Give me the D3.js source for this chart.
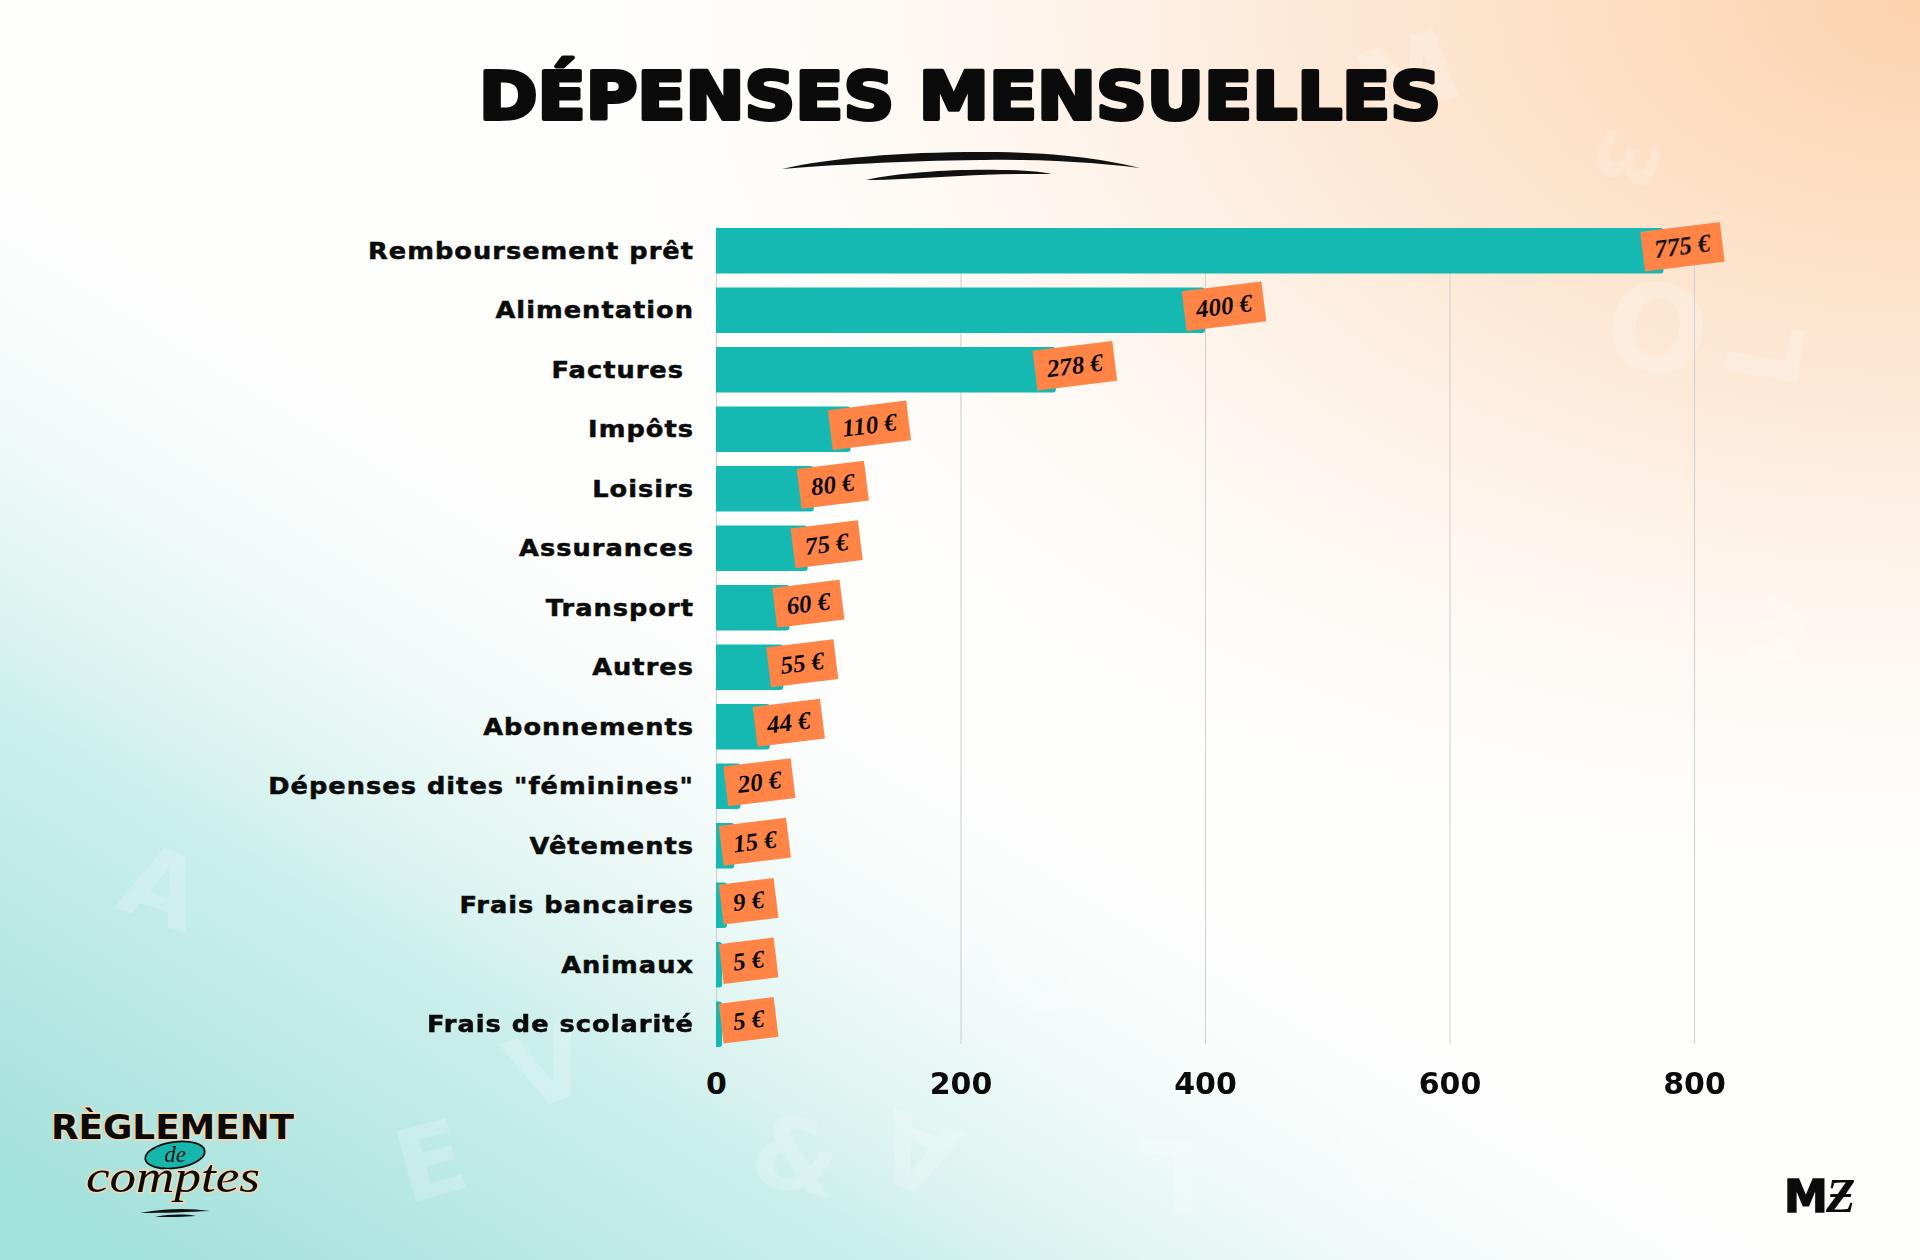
<!DOCTYPE html>
<html><head><meta charset="utf-8">
<script src="https://cdn.jsdelivr.net/npm/d3@7"></script>
<style>body{margin:0;background:#fff;} svg{display:block}</style>
</head><body>
<svg id="chart" width="1920" height="1260"></svg>
<script>
// ---- data ----
const categories = ["Remboursement prêt","Alimentation","Factures\u00a0","Impôts","Loisirs","Assurances","Transport","Autres","Abonnements","Dépenses dites \"féminines\"","Vêtements","Frais bancaires","Animaux","Frais de scolarité"];
const values = [775,400,278,110,80,75,60,55,44,20,15,9,5,5];
const xTicks = [0,200,400,600,800];
const titleText = "DÉPENSES MENSUELLES";
const currency = "€";

const W = 1920, H = 1260;
const svg = d3.select("#chart");
const defs = svg.append("defs");

// ---- background ----
const lg = defs.append("linearGradient").attr("id","tealGrad").attr("gradientUnits","userSpaceOnUse")
  .attr("x1",150).attr("y1",1260).attr("x2",600).attr("y2",520);
lg.append("stop").attr("offset","0").attr("stop-color","#a3e1dc").attr("stop-opacity",1);
lg.append("stop").attr("offset","0.45").attr("stop-color","#c6ede9").attr("stop-opacity",0.9);
lg.append("stop").attr("offset","1").attr("stop-color","#f2fbfa").attr("stop-opacity",0.0);
const rg = defs.append("radialGradient").attr("id","peachGrad")
  .attr("cx","1").attr("cy","0").attr("r","0.75");
rg.append("stop").attr("offset","0").attr("stop-color","#fcd2ac").attr("stop-opacity",1);
rg.append("stop").attr("offset","0.45").attr("stop-color","#fde5d0").attr("stop-opacity",0.8);
rg.append("stop").attr("offset","1").attr("stop-color","#ffffff").attr("stop-opacity",0);
svg.append("rect").attr("width",W).attr("height",H).attr("fill","#fefefd");
svg.append("rect").attr("width",W).attr("height",H).attr("fill","url(#peachGrad)");
svg.append("rect").attr("width",W).attr("height",H).attr("fill","url(#tealGrad)");

// faint decorative letters
const deco = [
  ["M",1420,110,100,-20],["3",1600,150,80,110],["O",1650,370,120,10],["L",1800,360,100,-80],
  ["A",150,920,100,20],["O",1047,1010,140,0],["d",1290,1060,100,-30],["V",560,1100,100,-20],
  ["&",790,1190,100,10],["E",440,1195,100,-15],["A",930,1120,100,-160],["L",1170,1140,100,180],["E",1390,1190,100,-25],
  ["&",1560,1190,100,15],["T",1070,330,100,25],["w",1800,640,80,-70],["s",1720,860,90,-20]
];
const dg = svg.append("g").attr("fill","#ffffff").attr("opacity",0.2)
  .attr("font-family","DejaVu Sans").attr("font-weight","bold");
dg.selectAll("text").data(deco).join("text")
  .attr("transform",d=>`translate(${d[1]},${d[2]}) rotate(${d[4]})`)
  .attr("font-size",d=>d[3]).attr("text-anchor","middle").text(d=>d[0]);

// ---- title ----
svg.append("text").attr("x",960).attr("y",119).attr("text-anchor","middle")
  .attr("font-family","DejaVu Sans").attr("font-weight","bold").attr("font-size",66)
  .attr("textLength",962).attr("lengthAdjust","spacingAndGlyphs")
  .attr("fill","#0b0b0b").attr("stroke","#0b0b0b").attr("stroke-width",4).attr("stroke-linejoin","round")
  .text(titleText);
// brush strokes
svg.append("path").attr("fill","#111")
  .attr("d","M782,169 C830,158 900,152 980,152 C1050,152 1100,158 1140,168 C1090,162 1040,159 980,160 C900,161 830,165 782,169 Z");
svg.append("path").attr("fill","#111")
  .attr("d","M866,180 C900,172 960,169 1000,170 C1025,170 1042,172 1052,174 C1020,174 990,174 960,176 C920,178 890,180 866,180 Z");

// ---- scales ----
const x = d3.scaleLinear().domain([0,800]).range([716,1694]);
const y = d3.scaleBand().domain(categories).range([221,1054]).paddingInner(0.235).paddingOuter(0.1175);

// grid lines via axis
const grid = svg.append("g").attr("transform","translate(0,1044)")
  .call(d3.axisBottom(x).tickValues(xTicks).tickSize(-(1044-228)).tickFormat(""));
grid.select(".domain").remove();
grid.selectAll("line").attr("stroke","#d4d4d4").attr("stroke-width",1.2);

// tick labels
const ax = svg.append("g").attr("transform","translate(0,1094)")
  .call(d3.axisBottom(x).tickValues(xTicks).tickSize(0).tickPadding(0).tickFormat(d3.format("d")));
ax.select(".domain").remove();
ax.selectAll("text").attr("font-family","DejaVu Sans").attr("font-weight","bold")
  .attr("font-size",30).attr("fill","#0b0b0b").attr("dy",0).attr("y",0);

// ---- bars ----
const r = 3;
svg.append("g").selectAll("path").data(values).join("path")
  .attr("fill","#15b9b1")
  .attr("d",(v,i)=>{
    const x0 = x(0), x1 = x(v), y0 = y(categories[i]), h = y.bandwidth();
    const rr = Math.min(r,(x1-x0)/2);
    return `M${x0},${y0} H${x1-rr} Q${x1},${y0} ${x1},${y0+rr} V${y0+h-rr} Q${x1},${y0+h} ${x1-rr},${y0+h} H${x0} Z`;
  });

// category labels (wide, extended look)
svg.append("g").selectAll("text").data(categories).join("text")
  .attr("transform",c=>`translate(694,${y(c)+y.bandwidth()/2}) scale(1.14,1)`)
  .attr("dy","0.36em")
  .attr("text-anchor","end").attr("font-family","DejaVu Sans").attr("font-weight","bold")
  .attr("font-size",22.5).attr("letter-spacing","0.9px").attr("fill","#0b0b0b")
  .attr("stroke","#0b0b0b").attr("stroke-width",0.5)
  .style("white-space","pre").text(c=>c);

// ---- value tags ----
const tags = svg.append("g");
values.forEach((v,i)=>{
  const cy = y(categories[i]) + y.bandwidth()/2 - 4;
  const label = v + " " + currency;
  const g = tags.append("g");
  const t = g.append("text").attr("font-family","Liberation Serif").attr("font-style","italic")
    .attr("font-weight","bold").attr("font-size",25).attr("fill","#0b0b0b")
    .attr("text-anchor","middle").attr("dy","0.33em").text(label);
  const tw = t.node().getComputedTextLength();
  const w = tw + 24, h = 40;
  const cx = Math.max(x(v) + 19, 721 + w/2);
  g.insert("rect","text").attr("x",-w/2).attr("y",-h/2).attr("width",w).attr("height",h).attr("fill","#ff8446");
  g.attr("transform",`translate(${cx},${cy}) rotate(-7)`);
});

// ---- logos ----
const lgG = svg.append("g");
lgG.append("text").attr("x",51).attr("y",1139).attr("font-family","DejaVu Sans").attr("font-weight","bold")
  .attr("font-size",34).attr("textLength",243).attr("lengthAdjust","spacingAndGlyphs")
  .attr("fill","#0b0b0b").attr("stroke","#f3d7b0").attr("stroke-width",3).attr("paint-order","stroke")
  .text("RÈGLEMENT");
lgG.append("ellipse").attr("cx",175).attr("cy",1155).attr("rx",30).attr("ry",13)
  .attr("transform","rotate(-8,175,1155)").attr("fill","#17b6ad").attr("stroke","#0b0b0b").attr("stroke-width",1.8);
lgG.append("text").attr("x",175).attr("y",1162).attr("text-anchor","middle")
  .attr("font-family","Liberation Serif").attr("font-style","italic").attr("font-size",23).attr("fill","#0b0b0b").text("de");
lgG.append("text").attr("x",173).attr("y",1192).attr("text-anchor","middle")
  .attr("font-family","Liberation Serif").attr("font-style","italic").attr("font-size",46)
  .attr("textLength",174).attr("lengthAdjust","spacingAndGlyphs")
  .attr("fill","#0b0b0b").attr("stroke","#f3d7b0").attr("stroke-width",3).attr("paint-order","stroke")
  .text("comptes");
lgG.append("path").attr("fill","#111")
  .attr("d","M140,1213 C165,1208 190,1208 210,1211 C190,1212 165,1213 140,1213 Z");
lgG.append("path").attr("fill","#111")
  .attr("d","M155,1217 C170,1214 185,1214 196,1216 C185,1217 170,1217 155,1217 Z");

svg.append("text").attr("x",1784).attr("y",1212).attr("font-family","DejaVu Sans").attr("font-weight","bold")
  .attr("font-size",44).attr("fill","#0b0b0b").attr("stroke","#0b0b0b").attr("stroke-width",1.5).text("M");
svg.append("text").attr("x",1826).attr("y",1212).attr("font-family","Liberation Serif").attr("font-weight","bold")
  .attr("font-style","italic").attr("font-size",48).attr("fill","#0b0b0b").text("Ƶ");
</script>
</body></html>
